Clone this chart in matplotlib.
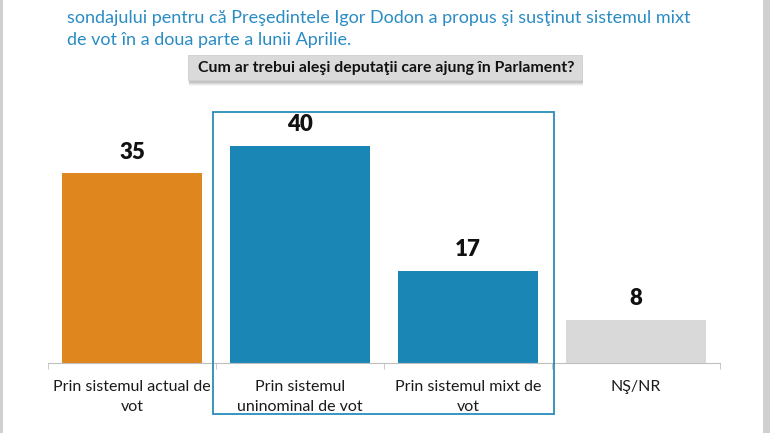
import matplotlib.pyplot as plt
from matplotlib.patches import Rectangle

# survey data
categories = ["Prin sistemul actual de\nvot", "Prin sistemul\nuninominal de vot",
              "Prin sistemul mixt de\nvot", "NŞ/NR"]
values = [35, 40, 17, 8]
bar_colors = ["#E0861F", "#1A86B6", "#1A86B6", "#D9D9D9"]

intro_lines = ["sondajului pentru că Preşedintele Igor Dodon a propus şi susţinut sistemul mixt",
               "de vot în a doua parte a lunii Aprilie."]
question = "Cum ar trebui aleşi deputaţii care ajung în Parlament?"

W, H = 770, 433
plt.rcParams['font.family'] = ['Lato', 'DejaVu Sans']

fig = plt.figure(figsize=(W / 100, H / 100), dpi=100)
fig.patch.set_facecolor("white")

# axes placement in pixels: baseline at y=363, categories from x=48 to x=720
ax = fig.add_axes([48 / W, (H - 363) / H, 672 / W, 48 * 5.43 / H])
x = list(range(len(values)))
bars = ax.bar(x, values, width=0.833, color=bar_colors)
for b, v in zip(bars, values):
    ax.text(b.get_x() + b.get_width() / 2, v + 1.9, str(v), ha="center", va="bottom",
            fontsize=16, fontweight="heavy", color="#111111")

ax.set_xlim(-0.5, len(values) - 0.5)
ax.set_ylim(0, 48)
ax.set_yticks([])
for s in ["top", "right", "left"]:
    ax.spines[s].set_visible(False)
ax.spines["bottom"].set_color("#BFBFBF")
ax.set_xticks(x)
ax.set_xticklabels(categories, fontsize=11.5, color="#1a1a1a", linespacing=1.6)
ax.tick_params(axis="x", which="major", length=0, pad=12)
ax.set_xticks([i - 0.5 for i in range(len(values) + 1)], minor=True)
ax.tick_params(axis="x", which="minor", length=4, color="#BFBFBF")

# highlight box around the two "system" answers
fig.patches.append(Rectangle((213 / W, (H - 414) / H), 341 / W, 302 / H,
                             transform=fig.transFigure, fill=False,
                             edgecolor="#2A8CB8", linewidth=1.3))

# question box with shadow
for k, a in enumerate([0.14, 0.11, 0.08, 0.05]):
    fig.patches.append(Rectangle(((188 + 1) / W, (H - 83 - k) / H), 394 / W, 25 / H,
                                 transform=fig.transFigure, facecolor="#555555",
                                 edgecolor="none", alpha=a))
fig.patches.append(Rectangle((188 / W, (H - 80) / H), 394 / W, 25 / H,
                             transform=fig.transFigure, facecolor="#DADADA",
                             edgecolor="#CFCFCF", linewidth=0.6))
fig.text(386 / W, (H - 68) / H, question, ha="center", va="center",
         fontsize=11.4, fontweight="bold", color="#111111")

# intro text (partially cut at the top)
for i, line in enumerate(intro_lines):
    fig.text(67 / W, (H - 18 - 22 * i) / H, line, ha="left", va="center",
             fontsize=13, color="#2A8CC4")

# page edges
fig.patches.append(Rectangle((0, 0), 3 / W, 1, transform=fig.transFigure,
                             facecolor="#D0D0D0", edgecolor="none"))
fig.patches.append(Rectangle((763 / W, 0), 7 / W, 1, transform=fig.transFigure,
                             facecolor="#D0D0D0", edgecolor="none"))

fig.savefig("out.png", dpi=100)
